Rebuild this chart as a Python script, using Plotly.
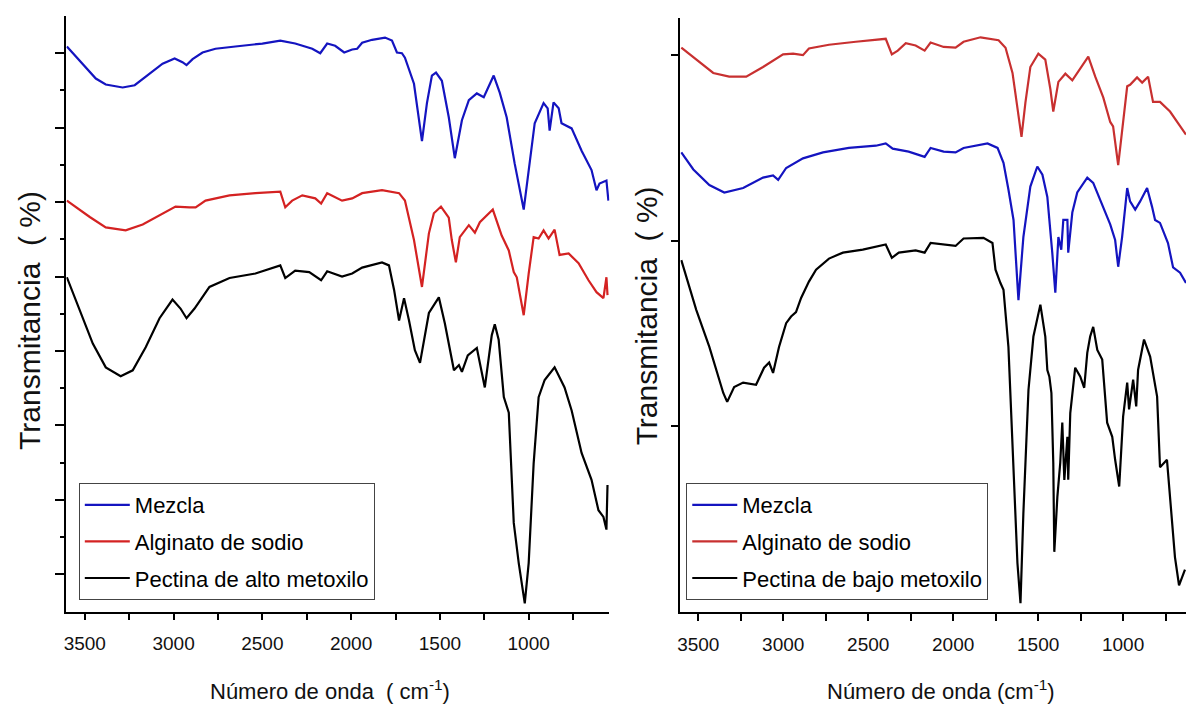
import plotly.graph_objects as go

# ---------------- Left panel (alto metoxilo) ----------------
wn_l_mez = [3601, 3511, 3438, 3382, 3287, 3219, 3135, 3062, 2994, 2950, 2927, 2893, 2837, 2764, 2652, 2500,
            2399, 2315, 2219, 2174, 2135, 2090, 2039, 1994, 1966, 1938, 1882, 1809, 1770, 1742, 1714, 1697,
            1646, 1618, 1601, 1573, 1545, 1522, 1489, 1450, 1416, 1376, 1337, 1292, 1253, 1197, 1163, 1124,
            1079, 1028, 1000, 966, 916, 893, 882, 860, 831, 815, 758, 702, 646, 618, 601, 562, 551]
t_l_mez = [75.9, 73.6, 71.6, 70.8, 70.4, 70.7, 72.3, 73.6, 74.3, 73.8, 73.4, 74.2, 75.1, 75.6, 75.9, 76.3,
           76.7, 76.3, 75.6, 75.0, 76.3, 76.0, 75.1, 75.5, 75.6, 76.4, 76.8, 77.1, 76.7, 75.1, 75.0, 74.4,
           70.9, 66.0, 63.2, 68.3, 72.0, 72.4, 71.3, 66.4, 60.9, 66.0, 68.7, 69.6, 69.1, 72.0, 69.7, 66.4,
           60.2, 54.0, 59.3, 65.6, 68.3, 67.6, 64.6, 68.4, 67.6, 65.6, 64.9, 61.9, 59.3, 56.6, 57.5, 57.9, 55.2]

wn_l_alg = [3601, 3472, 3382, 3270, 3174, 3062, 2989, 2910, 2876, 2820, 2685, 2539, 2399, 2371, 2332, 2275,
            2202, 2169, 2135, 2051, 1994, 1938, 1826, 1730, 1697, 1646, 1601, 1562, 1534, 1494, 1450, 1433,
            1410, 1388, 1337, 1303, 1275, 1202, 1152, 1112, 1084, 1067, 1028, 1000, 972, 944, 916, 888,
            854, 826, 775, 719, 663, 618, 579, 562, 556]
t_l_alg = [55.2, 53.0, 51.6, 51.2, 52.0, 53.5, 54.4, 54.3, 54.3, 55.2, 55.9, 56.2, 56.4, 54.3, 55.2, 55.9,
           55.5, 54.8, 56.2, 55.2, 55.5, 56.2, 56.6, 56.2, 55.2, 49.9, 43.6, 50.8, 53.5, 54.4, 52.9, 49.9,
           46.9, 50.3, 51.9, 50.9, 52.3, 54.0, 50.5, 48.5, 45.6, 44.9, 39.8, 45.4, 50.3, 50.1, 51.2, 50.1,
           51.3, 47.9, 48.1, 46.8, 44.5, 42.9, 42.1, 44.9, 42.5]

wn_l_pec = [3601, 3528, 3455, 3382, 3298, 3230, 3157, 3079, 3006, 2961, 2927, 2882, 2798, 2685, 2539, 2399,
            2371, 2315, 2236, 2169, 2135, 2051, 1994, 1938, 1826, 1787, 1758, 1730, 1702, 1674, 1641, 1612,
            1562, 1506, 1472, 1421, 1393, 1376, 1343, 1292, 1247, 1208, 1191, 1169, 1140, 1112, 1084, 1056,
            1022, 1000, 972, 944, 910, 854, 798, 758, 702, 646, 607, 579, 562, 556]
t_l_pec = [44.9, 40.5, 36.0, 32.8, 31.6, 32.4, 35.5, 39.4, 41.9, 40.7, 39.4, 40.7, 43.6, 44.8, 45.4, 46.5,
           44.8, 45.8, 45.6, 44.5, 45.7, 45.0, 45.4, 46.2, 46.9, 46.5, 43.2, 39.1, 42.1, 39.1, 35.1, 33.4,
           40.1, 42.2, 38.7, 32.4, 33.1, 32.2, 34.4, 35.4, 30.1, 37.1, 38.6, 36.5, 28.8, 26.7, 11.9, 6.5,
           1.1, 6.5, 19.9, 28.8, 31.1, 32.8, 30.1, 27.0, 21.3, 17.7, 13.6, 12.7, 11.0, 17.0]

# ---------------- Right panel (bajo metoxilo) ----------------
wn_r_mez = [3600, 3529, 3435, 3347, 3236, 3119, 3060, 3030, 2983, 2884, 2766, 2614, 2455, 2397, 2356, 2262,
            2168, 2133, 2056, 1986, 1939, 1798, 1739, 1704, 1675, 1645, 1616, 1587, 1546, 1505, 1475, 1446,
            1417, 1399, 1381, 1364, 1352, 1328, 1323, 1299, 1270, 1211, 1176, 1117, 1076, 1047, 1029, 1006,
            976, 959, 929, 900, 859, 830, 812, 783, 736, 706, 665, 630]
t_r_mez = [61.9, 59.6, 57.5, 56.5, 57.1, 58.5, 58.8, 58.2, 59.8, 61.1, 61.9, 62.5, 62.8, 63.1, 62.4, 62.0,
           61.3, 62.5, 62.0, 61.9, 62.5, 63.1, 62.5, 60.5, 56.9, 52.8, 42.0, 50.5, 57.3, 60.0, 58.9, 55.9,
           48.4, 43.0, 50.5, 48.8, 52.8, 52.8, 48.4, 53.8, 56.5, 58.5, 57.8, 54.6, 52.2, 50.1, 46.5, 50.5,
           57.1, 55.3, 54.2, 55.3, 57.1, 54.6, 52.8, 52.4, 49.7, 46.4, 45.7, 44.3]

wn_r_alg = [3600, 3512, 3412, 3318, 3218, 3119, 3001, 2942, 2884, 2849, 2731, 2573, 2397, 2361, 2326, 2279,
            2221, 2168, 2133, 2056, 1986, 1939, 1839, 1733, 1692, 1651, 1622, 1598, 1575, 1546, 1499, 1458,
            1428, 1411, 1381, 1340, 1299, 1270, 1205, 1164, 1117, 1076, 1059, 1029, 1006, 976, 959, 918,
            888, 853, 824, 783, 724, 677, 630]
t_r_alg = [76.0, 74.4, 72.6, 72.1, 72.1, 73.4, 75.1, 75.2, 75.0, 75.9, 76.4, 76.8, 77.2, 75.1, 75.6, 76.6,
           76.3, 75.6, 76.7, 76.1, 76.0, 76.8, 77.4, 77.0, 76.0, 72.6, 67.7, 64.0, 68.6, 73.4, 75.2, 74.4,
           70.4, 67.4, 71.4, 72.5, 71.6, 72.6, 74.8, 72.1, 69.3, 66.0, 65.4, 60.2, 65.0, 70.8, 71.0, 72.0,
           71.3, 72.1, 68.7, 68.7, 67.4, 65.9, 64.3]

wn_r_pec = [3600, 3512, 3435, 3353, 3330, 3289, 3236, 3160, 3113, 3083, 3060, 3025, 2983, 2954, 2925, 2895,
            2849, 2807, 2731, 2649, 2532, 2397, 2361, 2320, 2221, 2168, 2133, 2056, 1986, 1939, 1822, 1769,
            1751, 1722, 1704, 1675, 1645, 1622, 1604, 1587, 1557, 1528, 1487, 1458, 1446, 1434, 1422, 1411,
            1405, 1387, 1370, 1358, 1346, 1328, 1323, 1311, 1282, 1252, 1229, 1211, 1194, 1176, 1152, 1123,
            1094, 1064, 1047, 1023, 1000, 976, 965, 941, 923, 912, 877, 841, 800, 783, 742, 724, 695, 671, 636]
t_r_pec = [47.4, 40.7, 35.7, 29.5, 28.3, 30.3, 30.9, 30.6, 32.9, 33.6, 32.2, 35.7, 38.9, 39.8, 40.4, 42.3,
           44.5, 46.1, 47.6, 48.4, 48.8, 49.5, 47.7, 48.4, 48.7, 48.4, 49.7, 49.5, 49.3, 50.3, 50.4, 49.7,
           46.1, 44.3, 43.4, 35.7, 20.1, 6.6, 1.2, 13.3, 29.9, 37.1, 41.4, 37.1, 32.6, 31.7, 29.5, 20.1,
           8.1, 15.5, 20.1, 25.5, 17.8, 23.6, 17.8, 26.8, 32.9, 31.7, 30.2, 34.9, 37.1, 38.4, 35.3, 34.0,
           25.5, 23.6, 20.5, 16.9, 26.3, 30.9, 27.3, 31.3, 27.7, 32.6, 36.7, 34.4, 29.0, 19.5, 20.5, 15.5, 7.4, 3.6, 5.7]

names_left = ["Mezcla", "Alginato de sodio", "Pectina de alto metoxilo"]
names_right = ["Mezcla", "Alginato de sodio", "Pectina de bajo metoxilo"]
x_tickvals = [3500, 3000, 2500, 2000, 1500, 1000]

BLUE = "#1414C0"
RED_L = "#D42222"
RED_R = "#C83030"
BLACK = "#000000"
SANS = "Liberation Sans, Arial, sans-serif"
W, H = 1186, 709

fig = go.Figure()
left = [(wn_l_mez, t_l_mez, BLUE), (wn_l_alg, t_l_alg, RED_L), (wn_l_pec, t_l_pec, BLACK)]
for i, ((x, y, c), n) in enumerate(zip(left, names_left)):
    fig.add_trace(go.Scatter(x=x, y=y, mode="lines", name=n, line=dict(color=c, width=2.2),
                             xaxis="x", yaxis="y", legend="legend", legendgroup="L%d" % i))
right = [(wn_r_mez, t_r_mez, BLUE), (wn_r_alg, t_r_alg, RED_R), (wn_r_pec, t_r_pec, BLACK)]
for i, ((x, y, c), n) in enumerate(zip(right, names_right)):
    fig.add_trace(go.Scatter(x=x, y=y, mode="lines", name=n, line=dict(color=c, width=2.2),
                             xaxis="x2", yaxis="y2", legend="legend2", legendgroup="R%d" % i))

xaxis_common = dict(showline=True, linecolor="black", linewidth=1.5, ticks="outside", ticklen=7,
                    tickwidth=1.5, tickcolor="black", tickvals=x_tickvals, showgrid=False, zeroline=False,
                    tickfont=dict(family=SANS, size=19, color="#111"), ticklabelstandoff=7,
                    minor=dict(tickvals=[3250, 2750, 2250, 1750, 1250, 750], ticklen=7, tickwidth=1.5,
                               tickcolor="black", ticks="outside"))

legend_common = dict(yanchor="top", xanchor="left", bgcolor="white", bordercolor="#444", borderwidth=1,
                     font=dict(family=SANS, size=22, color="black"), itemwidth=45, tracegroupgap=5)

fig.update_layout(
    width=W, height=H, margin=dict(l=0, r=0, t=0, b=0),
    plot_bgcolor="white", paper_bgcolor="white",
    xaxis=dict(domain=[63.5 / W, 608 / W], range=[3604, 545], anchor="y", **xaxis_common),
    yaxis=dict(domain=[1 - 611.5 / H, 1 - 16 / H], range=[0, 80], anchor="x", showline=True,
               linecolor="black", linewidth=1.5, ticks="outside", ticklen=10, tickwidth=1.5,
               tickcolor="black", tickvals=[5, 15, 25, 35, 45, 55, 65, 75], showticklabels=False,
               showgrid=False, zeroline=False,
               minor=dict(tickvals=[10, 20, 30, 40, 50, 60, 70], ticklen=5, tickwidth=1.5,
                          tickcolor="black", ticks="outside")),
    xaxis2=dict(domain=[679 / W, 1.0], range=[3606, 630], anchor="y2", **xaxis_common),
    yaxis2=dict(domain=[1 - 612 / H, 1 - 18 / H], range=[0, 80], anchor="x2", showline=True,
                linecolor="black", linewidth=1.5, ticks="outside", ticklen=8, tickwidth=1.5,
                tickcolor="black", tickvals=[25, 50, 75], showticklabels=False,
                showgrid=False, zeroline=False),
    legend=dict(x=76 / W, y=1 - 483 / H, **legend_common),
    legend2=dict(x=685 / W, y=1 - 483 / H, **legend_common),
    showlegend=True,
)

annots = [
    dict(text="Número de onda  ( cm<sup>-1</sup>)", x=328 / W, y=1 - 690 / H),
    dict(text="Número de onda (cm<sup>-1</sup>)", x=940 / W, y=1 - 690 / H),
]
for a in annots:
    fig.add_annotation(xref="paper", yref="paper", showarrow=False, xanchor="center", yanchor="middle",
                       font=dict(family=SANS, size=22, color="#111"), **a)
for xp, yp in [(26, 320), (645, 316)]:
    fig.add_annotation(text="Transmitancia  ( %)", xref="paper", yref="paper", x=xp / W, y=1 - yp / H,
                       showarrow=False, textangle=-90, xanchor="center", yanchor="middle",
                       font=dict(family=SANS, size=30, color="#111"))

fig.write_html("out.html")
